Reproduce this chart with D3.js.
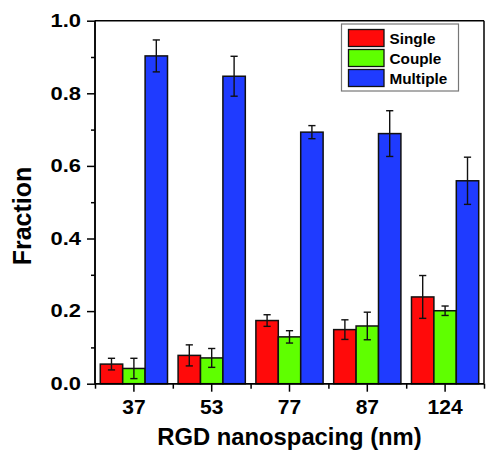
<!DOCTYPE html>
<html>
<head>
<meta charset="utf-8">
<script src="https://cdn.jsdelivr.net/npm/d3@7"></script>
<style>
  html, body { margin: 0; padding: 0; background: #fff; }
  svg { display: block; }
  text { font-family: "Liberation Sans", Arial, Helvetica, sans-serif; font-weight: bold; fill: #000; }
</style>
</head>
<body>
<svg id="chart" width="500" height="464"></svg>
<script>
const categories = ["37", "53", "77", "87", "124"];
const seriesNames = ["Single", "Couple", "Multiple"];
const singleValues = [0.054, 0.078, 0.174, 0.149, 0.239];
const singleErrors = [0.016, 0.029, 0.016, 0.027, 0.059];
const coupleValues = [0.042, 0.071, 0.129, 0.159, 0.201];
const coupleErrors = [0.028, 0.026, 0.017, 0.038, 0.013];
const multipleValues = [0.903, 0.847, 0.693, 0.689, 0.559];
const multipleErrors = [0.044, 0.055, 0.018, 0.063, 0.065];
const seriesColors = ["#ff0a0a", "#5fff00", "#1f3bff"];
const yMajorTicks = [0, 0.2, 0.4, 0.6, 0.8, 1.0];
const yMinorTicks = [0.1, 0.3, 0.5, 0.7, 0.9];
const xTitle = "RGD nanospacing (nm)";
const yTitle = "Fraction";

(function () {
const values = [singleValues, coupleValues, multipleValues];
const errors = [singleErrors, coupleErrors, multipleErrors];

const svg = d3.select("#chart");
const pL = 95, pR = 484, pT = 20.7, pB = 383.7;

const x0 = d3.scaleBand().domain(categories).range([pL, pR]).paddingInner(0).paddingOuter(0);
const bw = x0.bandwidth();
const x1 = d3.scaleBand().domain(seriesNames).range([bw * 0.068, bw * 0.932]).padding(0);
const y = d3.scaleLinear().domain([0, 1.0]).range([pB, pT]);

const data = [];
categories.forEach((c, i) => {
  seriesNames.forEach((s, j) => {
    data.push({ cat: c, ser: s, v: values[j][i], e: errors[j][i], color: seriesColors[j] });
  });
});

const g = svg.append("g");
g.selectAll("rect.bar").data(data).enter().append("rect")
  .attr("class", "bar")
  .attr("x", d => x0(d.cat) + x1(d.ser))
  .attr("y", d => y(d.v))
  .attr("width", x1.bandwidth())
  .attr("height", d => y(0) - y(d.v))
  .attr("fill", d => d.color)
  .attr("stroke", "#111")
  .attr("stroke-width", 1.5);

const cap = 3.6;
const cx = d => x0(d.cat) + x1(d.ser) + x1.bandwidth() / 2;
const eb = g.selectAll("g.err").data(data).enter().append("g").attr("class", "err")
  .attr("stroke", "#111").attr("stroke-width", 1.4);
eb.append("line").attr("x1", cx).attr("x2", cx)
  .attr("y1", d => y(d.v + d.e)).attr("y2", d => y(d.v - d.e));
eb.append("line").attr("x1", d => cx(d) - cap).attr("x2", d => cx(d) + cap)
  .attr("y1", d => y(d.v + d.e)).attr("y2", d => y(d.v + d.e));
eb.append("line").attr("x1", d => cx(d) - cap).attr("x2", d => cx(d) + cap)
  .attr("y1", d => y(d.v - d.e)).attr("y2", d => y(d.v - d.e));

svg.append("line").attr("x1", pL).attr("x2", pR).attr("y1", pT).attr("y2", pT)
  .attr("stroke", "#000").attr("stroke-width", 1.5);
svg.append("line").attr("x1", pR).attr("x2", pR).attr("y1", pT).attr("y2", pB)
  .attr("stroke", "#000").attr("stroke-width", 1.5);

const yAxis = svg.append("g").attr("transform", `translate(${pL},0)`)
  .call(d3.axisLeft(y).tickValues(yMajorTicks).tickFormat(d3.format(".1f")).tickSize(8).tickPadding(6));
const sx = 1.22;
yAxis.selectAll(".tick text").style("font-size", "18px")
  .attr("x", -14 / sx).attr("transform", `scale(${sx},1)`);
const yMinor = svg.append("g").attr("transform", `translate(${pL},0)`)
  .call(d3.axisLeft(y).tickValues(yMinorTicks).tickFormat("").tickSize(4));
[yAxis, yMinor].forEach(a => {
  a.select(".domain").attr("stroke", "#000").attr("stroke-width", 1.5).attr("d", `M0,${pB}V${pT}`);
  a.selectAll(".tick line").attr("stroke", "#000").attr("stroke-width", 1.5);
});

const xAxis = svg.append("g").attr("transform", `translate(0,${pB})`)
  .call(d3.axisBottom(x0).tickSize(8).tickPadding(7));
xAxis.selectAll("text").style("font-size", "21px");
const edges = categories.map(c => x0(c)).concat([pR]);
const xMinorScale = d3.scaleLinear().domain([pL, pR]).range([pL, pR]);
const xMinor = svg.append("g").attr("transform", `translate(0,${pB})`)
  .call(d3.axisBottom(xMinorScale).tickValues(edges).tickFormat("").tickSize(5));
[xAxis, xMinor].forEach(a => {
  a.select(".domain").attr("stroke", "#000").attr("stroke-width", 1.5).attr("d", `M${pL},0H${pR}`);
  a.selectAll(".tick line").attr("stroke", "#000").attr("stroke-width", 1.5);
});

svg.append("text").attr("x", (pL + pR) / 2).attr("y", 445).attr("text-anchor", "middle")
  .style("font-size", "23.8px").text(xTitle);
svg.append("text").attr("transform", "translate(31,216) rotate(-90)").attr("text-anchor", "middle")
  .style("font-size", "25px").text(yTitle);

const lg = svg.append("g");
lg.append("rect").attr("x", 341.5).attr("y", 24).attr("width", 117).attr("height", 67)
  .attr("fill", "#fff").attr("stroke", "#777").attr("stroke-width", 1.2);
seriesNames.forEach((s, j) => {
  lg.append("rect").attr("x", 348.5).attr("y", 29.5 + j * 20).attr("width", 35.5).attr("height", 17)
    .attr("fill", seriesColors[j]).attr("stroke", "#111").attr("stroke-width", 1.3);
  lg.append("text").attr("x", 389.5).attr("y", 43.5 + j * 20).style("font-size", "15.3px").text(s);
});
})();
</script>
</body>
</html>
